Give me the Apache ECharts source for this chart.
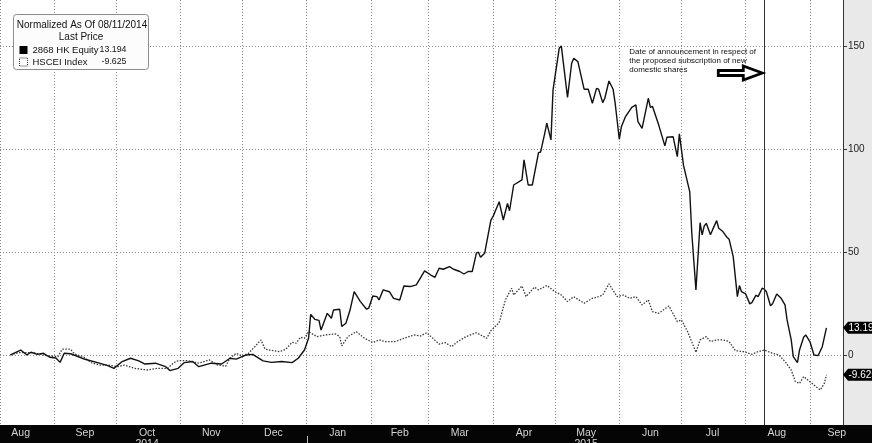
<!DOCTYPE html>
<html><head><meta charset="utf-8">
<script src="https://cdn.jsdelivr.net/npm/echarts@6/dist/echarts.min.js"></script>
<style>html,body{margin:0;padding:0;background:#fff}#c{width:872px;height:443px}</style>
</head><body><div id="c"></div>
<script>
const equityName = '2868 HK Equity';
const indexName = 'HSCEI Index';
const titleText = 'Normalized As Of 08/11/2014';
const subTitleText = 'Last Price';
const noteText = 'Date of announcement in respect of\nthe proposed subscription of new\ndomestic shares';
const announcementDate = '2015-08-10';
const axisMin = '2014-08-06';
const axisMax = '2015-09-17';

const equityDates = ['2014-08-11','2014-08-16','2014-08-19','2014-08-21','2014-08-24','2014-08-27','2014-08-30','2014-09-02','2014-09-04','2014-09-06','2014-09-09','2014-09-12','2014-09-16','2014-09-23','2014-09-27','2014-09-30','2014-10-04','2014-10-08','2014-10-12','2014-10-15','2014-10-20','2014-10-25','2014-10-27','2014-10-31','2014-11-03','2014-11-07','2014-11-10','2014-11-16','2014-11-21','2014-11-25','2014-11-28','2014-12-03','2014-12-06','2014-12-11','2014-12-15','2014-12-20','2014-12-25','2014-12-28','2014-12-31','2015-01-02','2015-01-03','2015-01-05','2015-01-07','2015-01-08','2015-01-11','2015-01-13','2015-01-14','2015-01-17','2015-01-18','2015-01-20','2015-01-22','2015-01-24','2015-01-27','2015-01-30','2015-01-31','2015-02-02','2015-02-04','2015-02-05','2015-02-07','2015-02-10','2015-02-12','2015-02-15','2015-02-17','2015-02-20','2015-02-23','2015-02-27','2015-03-02','2015-03-04','2015-03-06','2015-03-08','2015-03-11','2015-03-13','2015-03-16','2015-03-18','2015-03-20','2015-03-22','2015-03-24','2015-03-25','2015-03-26','2015-03-28','2015-03-31','2015-04-01','2015-04-04','2015-04-06','2015-04-08','2015-04-09','2015-04-11','2015-04-15','2015-04-16','2015-04-18','2015-04-20','2015-04-23','2015-04-24','2015-04-26','2015-04-27','2015-04-29','2015-04-30','2015-05-03','2015-05-04','2015-05-07','2015-05-09','2015-05-10','2015-05-12','2015-05-15','2015-05-17','2015-05-19','2015-05-21','2015-05-22','2015-05-24','2015-05-25','2015-05-27','2015-05-29','2015-05-30','2015-06-01','2015-06-02','2015-06-04','2015-06-07','2015-06-09','2015-06-10','2015-06-12','2015-06-15','2015-06-16','2015-06-17','2015-06-20','2015-06-23','2015-06-24','2015-06-27','2015-06-29','2015-06-30','2015-07-02','2015-07-05','2015-07-06','2015-07-08','2015-07-10','2015-07-11','2015-07-12','2015-07-13','2015-07-15','2015-07-16','2015-07-18','2015-07-19','2015-07-21','2015-07-23','2015-07-24','2015-07-26','2015-07-28','2015-07-29','2015-07-30','2015-08-01','2015-08-03','2015-08-04','2015-08-06','2015-08-07','2015-08-09','2015-08-10','2015-08-11','2015-08-13','2015-08-14','2015-08-16','2015-08-18','2015-08-20','2015-08-21','2015-08-23','2015-08-24','2015-08-26','2015-08-27','2015-08-29','2015-08-30','2015-09-01','2015-09-03','2015-09-05','2015-09-07','2015-09-09'];
const equityValues = [0,2.4,0,1.3,0.3,0.8,-1.1,-1.5,-3.6,0.8,0.6,-0.5,-2.1,-4,-5.2,-6.5,-3.2,-1.6,-2.9,-4.4,-4,-5.7,-7.6,-6.5,-3.7,-3.2,-5.7,-4,-4.4,-1.6,-2,0,0.3,-2.9,-3.6,-3.2,-3.7,-1.6,2.4,8.2,19.7,17.3,16.8,12.1,20.2,17.8,21.8,22.2,13.8,15.4,21.8,30.7,25.9,22.2,22.7,28.6,28.3,26.7,31.6,30.7,27.5,26.7,33.5,33.2,34,40.8,38.8,37.7,42.1,41.6,42.9,41.6,40.5,39.3,40.5,40.5,49.4,49.9,47.4,49.4,65.5,67.1,74.4,65.5,73.6,70,82.5,85,94.7,82.5,82.5,98.2,98.5,107.6,112.5,104.4,128.6,148.9,150,125,141.6,144,142.4,129,129,122.2,129.4,129,122.5,124.6,133,129,122.2,104.7,110.8,115.7,120.2,121.4,113.3,110,124.6,120.2,120.7,111.7,101.5,105.7,105.9,96.3,107.3,92,79.3,59.1,31.6,64.2,58.3,62.6,63.9,58.3,60.7,65.2,61.5,59.9,57.1,56.2,47.7,28.3,33.7,30.7,29.6,24.8,25.4,29,28.3,32.4,31.9,30.7,23.9,24.9,29.6,27.7,24.3,17,7.3,-0.8,-3.7,2.4,8.6,9.7,6.5,0,-0.3,4,13.194];

const indexDates = ['2014-08-11','2014-08-15','2014-08-22','2014-08-27','2014-08-30','2014-09-03','2014-09-05','2014-09-09','2014-09-11','2014-09-15','2014-09-19','2014-09-23','2014-09-27','2014-10-02','2014-10-05','2014-10-10','2014-10-16','2014-10-21','2014-10-26','2014-10-29','2014-10-31','2014-11-05','2014-11-10','2014-11-15','2014-11-19','2014-11-23','2014-11-25','2014-11-28','2014-12-01','2014-12-04','2014-12-07','2014-12-10','2014-12-12','2014-12-14','2014-12-19','2014-12-22','2014-12-25','2014-12-27','2014-12-29','2014-12-31','2015-01-02','2015-01-06','2015-01-10','2015-01-15','2015-01-17','2015-01-18','2015-01-21','2015-01-25','2015-01-29','2015-02-02','2015-02-05','2015-02-08','2015-02-13','2015-02-17','2015-02-22','2015-02-25','2015-02-28','2015-03-03','2015-03-06','2015-03-09','2015-03-12','2015-03-15','2015-03-19','2015-03-24','2015-03-27','2015-03-29','2015-03-31','2015-04-04','2015-04-07','2015-04-10','2015-04-11','2015-04-15','2015-04-17','2015-04-21','2015-04-23','2015-04-27','2015-05-01','2015-05-04','2015-05-07','2015-05-10','2015-05-15','2015-05-19','2015-05-22','2015-05-24','2015-05-27','2015-05-31','2015-06-03','2015-06-06','2015-06-09','2015-06-12','2015-06-15','2015-06-17','2015-06-20','2015-06-25','2015-06-26','2015-06-29','2015-07-01','2015-07-04','2015-07-08','2015-07-10','2015-07-13','2015-07-15','2015-07-18','2015-07-21','2015-07-24','2015-07-27','2015-07-31','2015-08-04','2015-08-07','2015-08-10','2015-08-14','2015-08-17','2015-08-20','2015-08-23','2015-08-25','2015-08-27','2015-08-29','2015-08-31','2015-09-03','2015-09-06','2015-09-08','2015-09-09'];
const indexValues = [0,1.1,1.1,0,-0.5,-0.8,2.8,2.8,0.5,-0.8,-3.7,-4.9,-4.9,-5.7,-4.9,-6.5,-7.3,-6.5,-6.5,-3.7,-2.8,-2.8,-4,-2.4,-4.9,-5.4,-1.6,0.8,-0.5,0.8,4,7.3,2.8,2.4,1.6,2.8,6.1,5.7,8.6,8.1,11.3,8.9,9.7,10.2,8.9,4.4,8.9,11.3,8.1,6,7.3,6.5,6.5,8.1,9.7,9.2,10.8,8.1,5.3,6,4,6.5,8.9,10.8,9.2,8.1,11.8,15.7,26.7,32.4,29.1,33.5,28.3,32.9,31.6,33.7,30.7,29.1,25.9,28.3,25.1,27.5,28.3,29.1,34.5,28.3,29.1,27.5,28.3,24.3,26.7,21,20.2,23.8,21.8,16.2,17,11.3,1.3,7.3,8.9,6.5,7.3,7.3,6.5,2.1,1.6,0.3,1.6,2.4,0.8,0,-3.2,-7.3,-12.9,-13.8,-10.5,-12.1,-14.6,-17,-13.8,-9.625];

const yTickValues = [0, 50, 100, 150];
const yMin = -34, yMax = 172.3;
const monthNames = ['Jan','Feb','Mar','Apr','May','Jun','Jul','Aug','Sep','Oct','Nov','Dec'];
const monthLabelDates = ['2014-08-16','2014-09-16','2014-10-16','2014-11-16','2014-12-16','2015-01-16','2015-02-15','2015-03-16','2015-04-16','2015-05-16','2015-06-16','2015-07-16','2015-08-16','2015-09-14'];
const yearLabelMonths = {'2014-9': '2014', '2015-4': '2015'};
const yearBoundaryDates = ['2015-01-01'];

function toTs(s) { const p = s.split('-').map(Number); return new Date(p[0], p[1]-1, p[2]).getTime(); }

const FONT = 'Liberation Sans';
const chart = echarts.init(document.getElementById('c'), null, {renderer: 'canvas'});

const equityData = equityDates.map((d, i) => [toTs(d), equityValues[i]]);
const indexData = indexDates.map((d, i) => [toTs(d), indexValues[i]]);
const lastEquity = equityValues[equityValues.length - 1];
const lastIndex = indexValues[indexValues.length - 1];
const gridLine = {show: true, lineStyle: {color: '#8a8a8a', type: [1, 2], width: 1}};

chart.setOption({
  animation: false,
  backgroundColor: '#fff',
  grid: {left: 0, right: 29, top: 0, bottom: 18, containLabel: false, outerBoundsMode: 'none'},
  xAxis: [
    {
      type: 'time', min: toTs(axisMin), max: toTs(axisMax), splitNumber: 14,
      axisLine: {show: false}, axisTick: {show: false}, axisLabel: {show: false},
      splitLine: gridLine
    },
    {
      type: 'value', min: toTs(axisMin), max: toTs(axisMax), position: 'bottom',
      axisLine: {show: false}, axisTick: {show: false}, splitLine: {show: false},
      axisLabel: {
        customValues: monthLabelDates.map(toTs),
        color: '#d4d4d4', fontFamily: FONT, fontSize: 10.5, margin: 3, lineHeight: 10.5,
        formatter: function (v) {
          const d = new Date(v);
          const key = d.getFullYear() + '-' + d.getMonth();
          return monthNames[d.getMonth()] + (yearLabelMonths[key] ? '\n' + yearLabelMonths[key] : '');
        }
      }
    }
  ],
  yAxis: {
    type: 'value', position: 'right', min: yMin, max: yMax,
    axisLine: {show: true, lineStyle: {color: '#333', width: 1}},
    axisTick: {show: true, customValues: yTickValues, length: 4, lineStyle: {color: '#333'}},
    axisLabel: {customValues: yTickValues, color: '#222', fontFamily: FONT, fontSize: 10, margin: 5},
    splitLine: gridLine
  },
  legend: {
    orient: 'vertical', left: 19, top: 45, itemWidth: 8, itemHeight: 8, itemGap: 2, padding: 0,
    selectedMode: false, z: 6,
    textStyle: {fontFamily: FONT, fontSize: 9.5, color: '#111',
      rich: {n: {width: 68, fontFamily: FONT, fontSize: 9.5, color: '#111'}, v: {width: 26, align: 'right', fontFamily: FONT, fontSize: 8.8, color: '#111'}}},
    formatter: function (name) {
      const v = name === equityName ? lastEquity : lastIndex;
      return '{n|' + name + '}{v|' + v.toFixed(3) + '}';
    },
    data: [
      {name: equityName, icon: 'rect', itemStyle: {color: '#000'}},
      {name: indexName, icon: 'rect', itemStyle: {color: '#fff', borderColor: '#333', borderType: [1, 1], borderWidth: 1}}
    ]
  },
  series: [
    {
      name: equityName, type: 'line', data: equityData, showSymbol: false, z: 3,
      lineStyle: {color: '#111', width: 1.4}, itemStyle: {color: '#000'},
      markLine: {symbol: 'none', silent: true, label: {show: false},
        lineStyle: {color: '#333', width: 1, type: 'solid'},
        data: [{xAxis: toTs(announcementDate)}]}
    },
    {
      name: indexName, type: 'line', data: indexData, showSymbol: false, z: 2,
      lineStyle: {color: '#383838', width: 1.3, type: [1.5, 1.5]}, itemStyle: {color: '#383838'}
    }
  ]
});

const xRight = chart.convertToPixel({xAxisIndex: 0}, toTs(axisMax));
const xLine = chart.convertToPixel({xAxisIndex: 0}, toTs(announcementDate));
const yBottom = chart.convertToPixel({yAxisIndex: 0}, yMin);
const yEq = chart.convertToPixel({yAxisIndex: 0}, lastEquity);
const yIx = chart.convertToPixel({yAxisIndex: 0}, lastIndex);
const W = 872, H = 443;

function tag(y, text, id) {
  return [
    {type: 'polygon', id: id + 'p', z: 20, silent: true,
      shape: {points: [[xRight, y], [xRight + 5, y - 6], [W, y - 6], [W, y + 6], [xRight + 5, y + 6]]},
      style: {fill: '#000'}},
    {type: 'text', id: id + 't', z: 21, silent: true, x: xRight + 5.5, y: y,
      style: {text: text, fill: '#fff', font: '10px ' + FONT, verticalAlign: 'middle'}}
  ];
}

const graphics = [
  {type: 'rect', id: 'rightBg', z: -10, silent: true, shape: {x: xRight, y: 0, width: W - xRight, height: yBottom}, style: {fill: '#e9e9e9'}},
  {type: 'rect', id: 'band', z: -10, silent: true, shape: {x: 0, y: yBottom, width: W, height: H - yBottom}, style: {fill: '#050505'}},
  {type: 'rect', id: 'legendBox', z: 4, silent: true, shape: {x: 13.5, y: 14.5, width: 135, height: 55, r: 3}, style: {fill: '#fcfcfc', stroke: '#8c8c8c', lineWidth: 1}},
  {type: 'text', id: 'lt1', z: 7, silent: true, x: 82, y: 25, style: {text: titleText, fill: '#111', font: '10px ' + FONT, align: 'center', verticalAlign: 'middle'}},
  {type: 'text', id: 'lt2', z: 7, silent: true, x: 81, y: 37, style: {text: subTitleText, fill: '#111', font: '10px ' + FONT, align: 'center', verticalAlign: 'middle'}},
  {type: 'text', id: 'note', z: 7, silent: true, x: xLine - 135, y: 47.5, style: {text: noteText, fill: '#111', font: '8px ' + FONT, lineHeight: 9, verticalAlign: 'top'}},
  {type: 'polygon', id: 'arrow', z: 7, silent: true,
    shape: {points: [[xLine - 2, 73], [xLine - 21, 66], [xLine - 21, 70.5], [xLine - 46, 70.5], [xLine - 46, 75.5], [xLine - 21, 75.5], [xLine - 21, 80]]},
    style: {fill: '#fff', stroke: '#000', lineWidth: 2.8, lineJoin: 'miter'}}
].concat(tag(yEq, lastEquity.toFixed(3), 'te'), tag(yIx, lastIndex.toFixed(3), 'ti'));

yearBoundaryDates.forEach((d, i) => {
  const x = Math.round(chart.convertToPixel({xAxisIndex: 0}, toTs(d))) + 0.5;
  graphics.push({type: 'line', id: 'yb' + i, z: 5, silent: true, shape: {x1: x, y1: yBottom + 11, x2: x, y2: H}, style: {stroke: '#bbb', lineWidth: 1}});
});

chart.setOption({graphic: graphics});
</script></body></html>
